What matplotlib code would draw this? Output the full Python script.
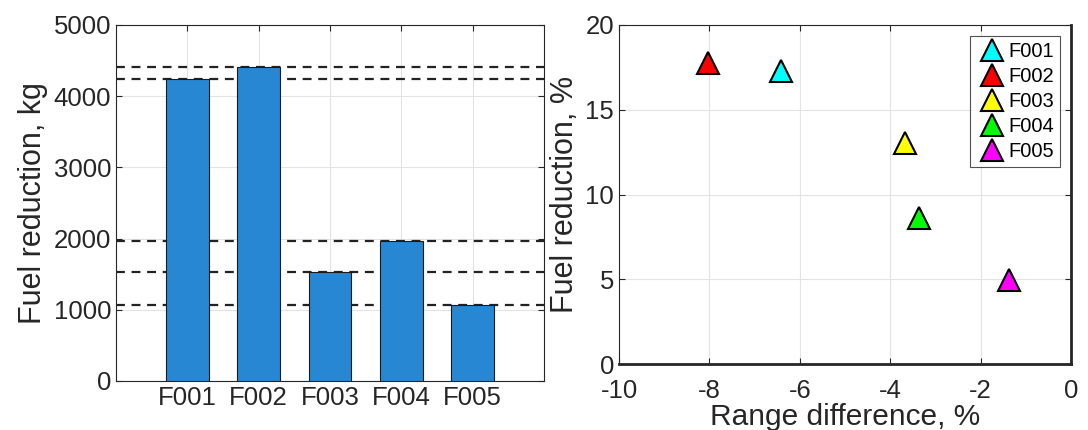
import matplotlib.pyplot as plt

plt.rcParams['font.family'] = ['Liberation Sans', 'DejaVu Sans']
plt.rcParams['axes.unicode_minus'] = False

flights = ["F001", "F002", "F003", "F004", "F005"]
fuel_kg = [4246, 4410, 1535, 1965, 1067]
range_diff = [-6.41, -8.03, -3.67, -3.37, -1.37]
fuel_pct = [17.3, 17.75, 13.05, 8.6, 4.98]
colors = ["#00ffff", "#ff0000", "#ffff00", "#00ff00", "#ff00ff"]

tick_color = "#262626"
grid_color = "#e3e3e3"

fig = plt.figure(figsize=(10.88, 4.3), dpi=100)
ax1 = fig.add_axes([116 / 1088, 1 - 381 / 430, 428 / 1088, 356 / 430])
ax2 = fig.add_axes([619 / 1088, 1 - 364 / 430, 452 / 1088, 339 / 430])

# left: bars with dashed reference lines
xpos = range(1, len(flights) + 1)
for v in fuel_kg:
    ax1.axhline(v, color="#222222", linestyle=(0, (4, 3)), linewidth=1.6, zorder=2)
ax1.bar(xpos, fuel_kg, width=0.6, color="#2887d3", edgecolor="#1a1a1a",
        linewidth=0.8, zorder=3)
ax1.set_xlim(0, 6)
ax1.set_ylim(0, 5000)
ax1.set_xticks(list(xpos))
ax1.set_xticklabels(flights)
ax1.set_yticks([0, 1000, 2000, 3000, 4000, 5000])
ax1.set_ylabel("Fuel reduction, kg", fontsize=22, color=tick_color, labelpad=4)
ax1.grid(True, color=grid_color, linewidth=0.8, zorder=0)
ax1.set_axisbelow(True)

# right: scatter with triangles
for x, y, c, name in zip(range_diff, fuel_pct, colors, flights):
    ax2.plot(x, y, marker="^", markersize=16, markerfacecolor=c,
             markeredgecolor="black", markeredgewidth=1.5, linestyle="none",
             label=name, zorder=3)
ax2.set_xlim(-10, 0)
ax2.set_ylim(0, 20)
ax2.set_xticks([-10, -8, -6, -4, -2, 0])
ax2.set_yticks([0, 5, 10, 15, 20])
ax2.set_xlabel("Range difference, %", fontsize=21.5, color=tick_color, labelpad=0)
ax2.set_ylabel("Fuel reduction, %", fontsize=22, color=tick_color, labelpad=4)
ax2.grid(True, color=grid_color, linewidth=0.8, zorder=0)
ax2.set_axisbelow(True)
leg = ax2.legend(loc="upper right", fontsize=14.5, frameon=True, fancybox=False,
                 handletextpad=0.0, handlelength=1.6, borderpad=0.3,
                 labelspacing=0.3, borderaxespad=0.55, markerscale=0.95)
leg.get_frame().set_edgecolor("#262626")
leg.get_frame().set_linewidth(0.8)

for ax in (ax1, ax2):
    ax.tick_params(direction="in", labelsize=18.5, colors=tick_color,
                   length=4, top=True, right=True)
    for s in ax.spines.values():
        s.set_color(tick_color)
        s.set_linewidth(0.8)
ax2.tick_params(axis="x", pad=11)
for lab in ax2.get_yticklabels():
    lab.set_verticalalignment("center_baseline")
ax2.spines["right"].set_linewidth(2)
ax2.spines["bottom"].set_linewidth(2)

fig.savefig("out.png", dpi=100)
